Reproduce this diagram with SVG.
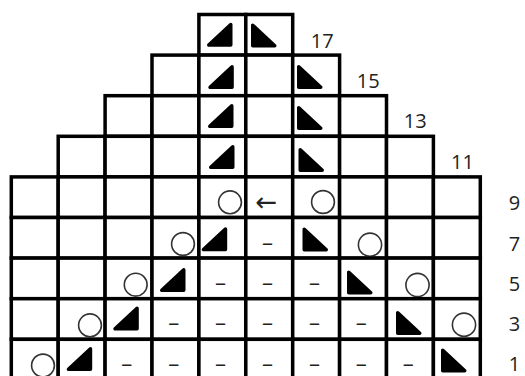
<svg xmlns="http://www.w3.org/2000/svg" width="525" height="376" viewBox="0 0 525 376">
<defs>
<style>
.cell{fill:#fff;stroke:#000;stroke-width:3.5}
.yo{fill:none;stroke:#333;stroke-width:1.6}
.num{font-family:"Open Sans","Liberation Sans",sans-serif;font-size:20px;fill:#222;text-anchor:middle}
.dash{font-family:"Open Sans","Liberation Sans",sans-serif;font-size:22px;fill:#222;text-anchor:middle}
.arr{font-family:"DejaVu Sans",sans-serif;font-size:26px;fill:#222;text-anchor:middle}
</style>
<path id="L" fill="#000" stroke="#000" stroke-width="3.5" stroke-linejoin="round" d="M1.75,22.25 L23.75,22.25 L23.75,1.75 Z"/>
<path id="R" fill="#000" stroke="#000" stroke-width="3.5" stroke-linejoin="round" d="M1.75,1.75 L1.75,22.25 L23.75,22.25 Z"/>
</defs>
<rect width="525" height="376" fill="#fff"/>

<g id="row-17">
<rect class="cell" x="198.9" y="14.5" width="46.9" height="40.6"/>
<rect class="cell" x="245.8" y="14.5" width="46.9" height="40.6"/>
<use href="#L" x="207" y="22.7"/>
<use href="#R" x="251" y="23.5"/>
<text class="num" x="322.2" y="47.7">17</text>
</g>

<g id="row-15">
<rect class="cell" x="152" y="55.1" width="46.9" height="40.6"/>
<rect class="cell" x="198.9" y="55.1" width="46.9" height="40.6"/>
<rect class="cell" x="245.8" y="55.1" width="46.9" height="40.6"/>
<rect class="cell" x="292.7" y="55.1" width="46.9" height="40.6"/>
<use href="#L" x="208.3" y="65"/>
<use href="#R" x="297" y="65"/>
<text class="num" x="368.2" y="88.3">15</text>
</g>

<g id="row-13">
<rect class="cell" x="105.1" y="95.7" width="46.9" height="40.6"/>
<rect class="cell" x="152" y="95.7" width="46.9" height="40.6"/>
<rect class="cell" x="198.9" y="95.7" width="46.9" height="40.6"/>
<rect class="cell" x="245.8" y="95.7" width="46.9" height="40.6"/>
<rect class="cell" x="292.7" y="95.7" width="46.9" height="40.6"/>
<rect class="cell" x="339.6" y="95.7" width="46.9" height="40.6"/>
<use href="#L" x="208" y="104"/>
<use href="#R" x="297" y="106"/>
<text class="num" x="415.3" y="128.3">13</text>
</g>

<g id="row-11">
<rect class="cell" x="58.2" y="136.3" width="46.9" height="40.6"/>
<rect class="cell" x="105.1" y="136.3" width="46.9" height="40.6"/>
<rect class="cell" x="152" y="136.3" width="46.9" height="40.6"/>
<rect class="cell" x="198.9" y="136.3" width="46.9" height="40.6"/>
<rect class="cell" x="245.8" y="136.3" width="46.9" height="40.6"/>
<rect class="cell" x="292.7" y="136.3" width="46.9" height="40.6"/>
<rect class="cell" x="339.6" y="136.3" width="46.9" height="40.6"/>
<rect class="cell" x="386.5" y="136.3" width="46.9" height="40.6"/>
<use href="#L" x="209" y="145"/>
<use href="#R" x="298.5" y="148"/>
<text class="num" x="462.5" y="169">11</text>
</g>

<g id="row-9">
<rect class="cell" x="11.3" y="176.9" width="46.9" height="40.6"/>
<rect class="cell" x="58.2" y="176.9" width="46.9" height="40.6"/>
<rect class="cell" x="105.1" y="176.9" width="46.9" height="40.6"/>
<rect class="cell" x="152" y="176.9" width="46.9" height="40.6"/>
<rect class="cell" x="198.9" y="176.9" width="46.9" height="40.6"/>
<rect class="cell" x="245.8" y="176.9" width="46.9" height="40.6"/>
<rect class="cell" x="292.7" y="176.9" width="46.9" height="40.6"/>
<rect class="cell" x="339.6" y="176.9" width="46.9" height="40.6"/>
<rect class="cell" x="386.5" y="176.9" width="46.9" height="40.6"/>
<rect class="cell" x="433.4" y="176.9" width="46.9" height="40.6"/>
<circle class="yo" cx="230" cy="202.3" r="11.4"/>
<text class="arr" x="266.5" y="210.5">←</text>
<circle class="yo" cx="323" cy="202" r="11.4"/>
<text class="num" x="514.5" y="209.7">9</text>
</g>

<g id="row-7">
<rect class="cell" x="11.3" y="217.5" width="46.9" height="40.6"/>
<rect class="cell" x="58.2" y="217.5" width="46.9" height="40.6"/>
<rect class="cell" x="105.1" y="217.5" width="46.9" height="40.6"/>
<rect class="cell" x="152" y="217.5" width="46.9" height="40.6"/>
<rect class="cell" x="198.9" y="217.5" width="46.9" height="40.6"/>
<rect class="cell" x="245.8" y="217.5" width="46.9" height="40.6"/>
<rect class="cell" x="292.7" y="217.5" width="46.9" height="40.6"/>
<rect class="cell" x="339.6" y="217.5" width="46.9" height="40.6"/>
<rect class="cell" x="386.5" y="217.5" width="46.9" height="40.6"/>
<rect class="cell" x="433.4" y="217.5" width="46.9" height="40.6"/>
<circle class="yo" cx="183" cy="244" r="11.4"/>
<use href="#L" x="201.7" y="227.3"/>
<text class="dash" x="267.4" y="249.5">–</text>
<use href="#R" x="302.5" y="227.5"/>
<circle class="yo" cx="370" cy="244.7" r="11.6"/>
<text class="num" x="514.5" y="251.3">7</text>
</g>

<g id="row-5">
<rect class="cell" x="11.3" y="258.1" width="46.9" height="40.6"/>
<rect class="cell" x="58.2" y="258.1" width="46.9" height="40.6"/>
<rect class="cell" x="105.1" y="258.1" width="46.9" height="40.6"/>
<rect class="cell" x="152" y="258.1" width="46.9" height="40.6"/>
<rect class="cell" x="198.9" y="258.1" width="46.9" height="40.6"/>
<rect class="cell" x="245.8" y="258.1" width="46.9" height="40.6"/>
<rect class="cell" x="292.7" y="258.1" width="46.9" height="40.6"/>
<rect class="cell" x="339.6" y="258.1" width="46.9" height="40.6"/>
<rect class="cell" x="386.5" y="258.1" width="46.9" height="40.6"/>
<rect class="cell" x="433.4" y="258.1" width="46.9" height="40.6"/>
<circle class="yo" cx="135.7" cy="284.7" r="11.4"/>
<use href="#L" x="160" y="268"/>
<text class="dash" x="220.6" y="290.1">–</text>
<text class="dash" x="267.5" y="290.1">–</text>
<text class="dash" x="314.4" y="290.1">–</text>
<use href="#R" x="347" y="270.5"/>
<circle class="yo" cx="417.5" cy="285" r="11.6"/>
<text class="num" x="514.5" y="291.3">5</text>
</g>

<g id="row-3">
<rect class="cell" x="11.3" y="298.7" width="46.9" height="40.6"/>
<rect class="cell" x="58.2" y="298.7" width="46.9" height="40.6"/>
<rect class="cell" x="105.1" y="298.7" width="46.9" height="40.6"/>
<rect class="cell" x="152" y="298.7" width="46.9" height="40.6"/>
<rect class="cell" x="198.9" y="298.7" width="46.9" height="40.6"/>
<rect class="cell" x="245.8" y="298.7" width="46.9" height="40.6"/>
<rect class="cell" x="292.7" y="298.7" width="46.9" height="40.6"/>
<rect class="cell" x="339.6" y="298.7" width="46.9" height="40.6"/>
<rect class="cell" x="386.5" y="298.7" width="46.9" height="40.6"/>
<rect class="cell" x="433.4" y="298.7" width="46.9" height="40.6"/>
<circle class="yo" cx="90" cy="325.3" r="11.4"/>
<use href="#L" x="113.3" y="306.5"/>
<text class="dash" x="173.7" y="330.2">–</text>
<text class="dash" x="220.6" y="330.2">–</text>
<text class="dash" x="267.5" y="330.2">–</text>
<text class="dash" x="314.4" y="330.2">–</text>
<text class="dash" x="361.3" y="330.2">–</text>
<use href="#R" x="396" y="311"/>
<circle class="yo" cx="464" cy="324.7" r="11.6"/>
<text class="num" x="514.5" y="331.3">3</text>
</g>

<g id="row-1">
<rect class="cell" x="11.3" y="339.3" width="46.9" height="40.6"/>
<rect class="cell" x="58.2" y="339.3" width="46.9" height="40.6"/>
<rect class="cell" x="105.1" y="339.3" width="46.9" height="40.6"/>
<rect class="cell" x="152" y="339.3" width="46.9" height="40.6"/>
<rect class="cell" x="198.9" y="339.3" width="46.9" height="40.6"/>
<rect class="cell" x="245.8" y="339.3" width="46.9" height="40.6"/>
<rect class="cell" x="292.7" y="339.3" width="46.9" height="40.6"/>
<rect class="cell" x="339.6" y="339.3" width="46.9" height="40.6"/>
<rect class="cell" x="386.5" y="339.3" width="46.9" height="40.6"/>
<rect class="cell" x="433.4" y="339.3" width="46.9" height="40.6"/>
<circle class="yo" cx="43" cy="365.5" r="11.4"/>
<use href="#L" x="66.7" y="347"/>
<text class="dash" x="126.8" y="370.8">–</text>
<text class="dash" x="173.7" y="370.8">–</text>
<text class="dash" x="220.6" y="370.8">–</text>
<text class="dash" x="267.5" y="370.8">–</text>
<text class="dash" x="314.4" y="370.8">–</text>
<text class="dash" x="361.3" y="370.8">–</text>
<text class="dash" x="408.2" y="370.8">–</text>
<use href="#R" x="441" y="348.5"/>
<text class="num" x="514.5" y="371.3">1</text>
</g>
</svg>
